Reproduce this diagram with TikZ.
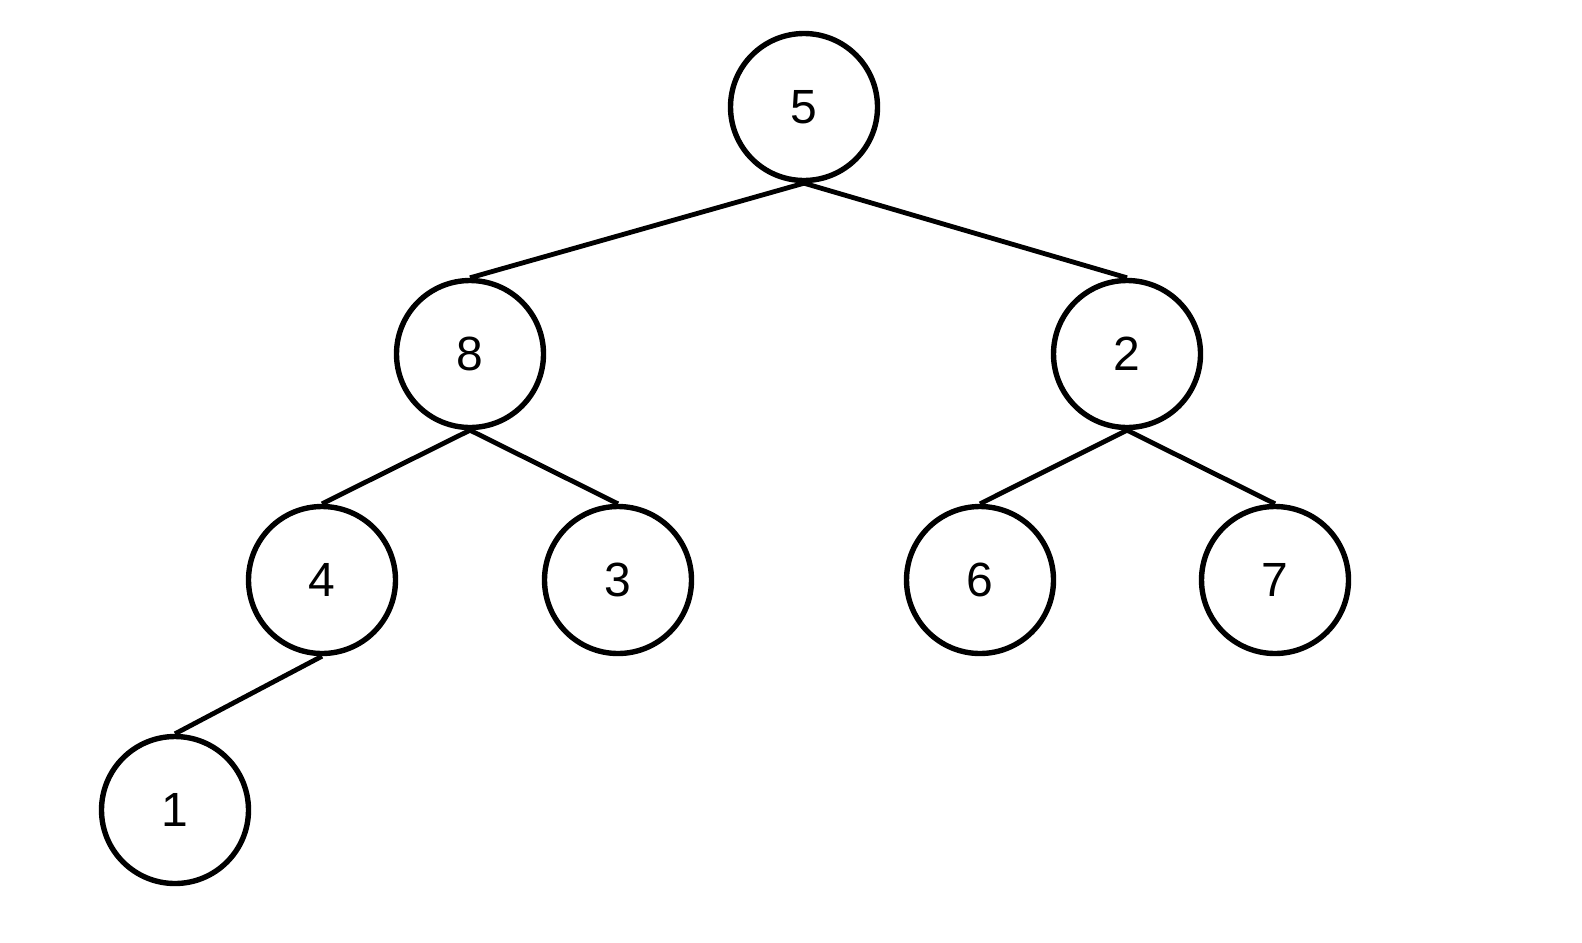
\documentclass[tikz,border=0pt]{standalone}
\usepackage{fontspec}
\setmainfont{Liberation Sans}
\begin{document}
\begin{tikzpicture}[x=0.5pt,y=-0.5pt,
  treenode/.style={circle,draw=black,line width=2.7pt,minimum size=73.5pt,inner sep=0pt,font=\fontsize{24}{28}\selectfont},
  edge/.style={draw=black,line width=2.4pt}]
\useasboundingbox (0,0) rectangle (1582,942);
\node[treenode] (n5) at (804,107) {5};
\node[treenode] (n8) at (470,354) {8};
\node[treenode] (n2) at (1127,354) {2};
\node[treenode] (n4) at (322,580) {4};
\node[treenode] (n3) at (618,580) {3};
\node[treenode] (n6) at (980,580) {6};
\node[treenode] (n7) at (1275,580) {7};
\node[treenode] (n1) at (175,810) {1};
\draw[edge] (n5.south) -- (n8.north);
\draw[edge] (n5.south) -- (n2.north);
\draw[edge] (n8.south) -- (n4.north);
\draw[edge] (n8.south) -- (n3.north);
\draw[edge] (n2.south) -- (n6.north);
\draw[edge] (n2.south) -- (n7.north);
\draw[edge] (n4.south) -- (n1.north);
\end{tikzpicture}
\end{document}
